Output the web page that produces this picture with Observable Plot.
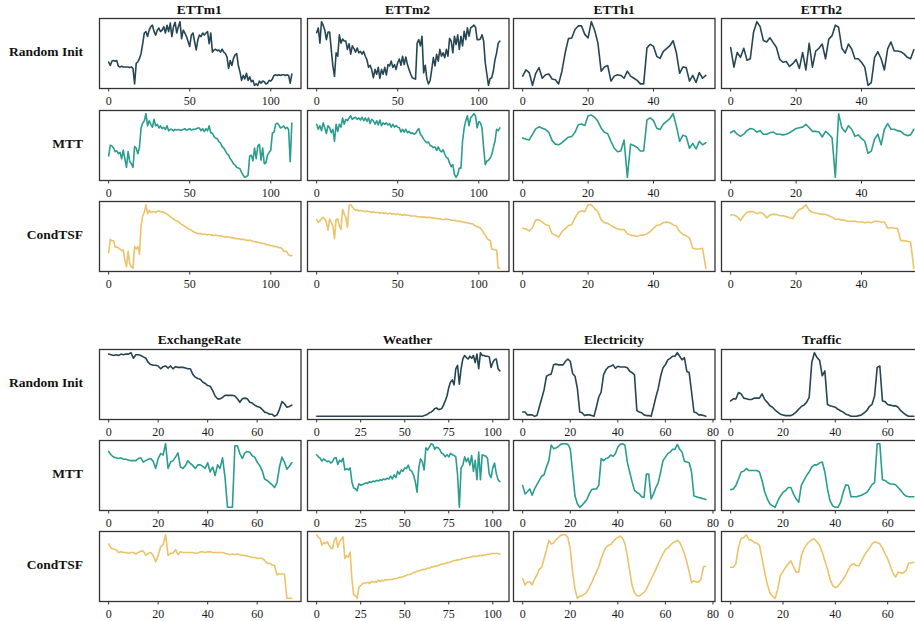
<!DOCTYPE html>
<html>
<head>
<meta charset="utf-8">
<script src="https://cdn.jsdelivr.net/npm/d3@7"></script>
<script src="https://cdn.jsdelivr.net/npm/@observablehq/plot@0.6"></script>
<style>
  html, body { margin: 0; padding: 0; background: #fff; overflow: hidden; }
  #wrap { position: relative; width: 915px; height: 621px; overflow: hidden; background: #fff; }
  .panel { position: absolute; }
  .panel svg { max-width: none !important; }
  .title, .rowlab { position: absolute; font-family: "Liberation Serif", "Times New Roman", serif; font-weight: bold; font-size: 13.5px; line-height: 16px; color: #111; white-space: nowrap; }
  .title { text-align: center; width: 200px; }
  .rowlab { text-align: right; width: 90px; }
</style>
</head>
<body>
<div id="wrap"></div>
<script>
// ---------------- data ----------------
const topDatasets = ["ETTm1", "ETTm2", "ETTh1", "ETTh2"];
const bottomDatasets = ["ExchangeRate", "Weather", "Electricity", "Traffic"];
const methods = ["Random Init", "MTT", "CondTSF"];
const methodColors = ["#264653", "#2a9d8f", "#e9c46a"];

const ticksETTm = [0, 50, 100];
const ticksETTh = [0, 20, 40];
const ticksExchange = [0, 20, 40, 60];
const ticksWeather = [0, 25, 50, 75, 100];
const ticksElectricity = [0, 20, 40, 60, 80];
const ticksTraffic = [0, 20, 40, 60];

const ettm1Random = [38,33,39,40,39,40,32,31,32,31, 31,31,31,30,31,29,7,36,38,43, 50,64,79,81,74,83,88,90,81,76, 83,86,81,83,88,79,90,81,93,74, 88,94,79,88,95,71,83,79,74,67, 60,76,79,67,55,69,76,74,79,76, 79,81,64,79,52,55,56,54,55,52, 56,52,50,45,29,40,33,43,48,50, 33,24,12,19,14,22,12,17,10,12, 5,7,5,11,8,11,10,7,8,12, 11,14,19,20,19,20,19,20,20,19, 20,19,8,21];
const ettm1MTT = [37,52,51,48,43,44,40,42,33,45, 33,21,43,29,26,21,50,48,40,49, 76,83,86,96,79,86,81,77,88,79, 81,76,79,75,77,74,79,72,74,74, 72,74,73,74,73,73,74,75,73,74, 75,73,74,74,75,76,76,72,75,71, 75,72,79,69,69,64,62,61,57,55, 50,48,44,40,38,33,30,26,24,21, 20,19,14,10,7,8,10,37,38,30, 48,33,51,53,31,48,26,27,38,42, 45,69,70,81,83,80,76,77,79,75, 77,74,29,83];
const ettm1Cond = [27,46,44,44,35,35,34,32,30,31, 17,7,29,12,7,5,36,32,36,25, 65,79,84,95,82,87,84,85,85,84, 86,86,85,85,84,83,82,80,78,76, 75,73,72,71,69,67,66,64,63,61, 60,59,57,56,55,54,54,54,53,53, 53,52,53,52,52,51,52,51,51,51, 50,50,49,50,49,49,48,48,47,47, 47,46,46,46,45,45,44,45,44,43, 43,42,42,41,41,40,40,39,38,38, 37,37,36,36,35,34,34,33,29,29, 28,24,23,23];

const ettm2Random = [79,86,64,95,90,83,69,80,80,55, 31,16,50,45,76,64,70,67,67,55, 63,48,60,56,51,57,50,52,48,52, 45,40,29,32,25,14,26,19,29,13, 26,19,29,18,33,31,38,29,33,26, 36,41,32,45,33,44,33,26,19,14, 13,12,64,69,60,74,21,32,12,5, 10,26,43,31,48,38,55,45,50,43, 55,45,71,67,50,74,62,76,55,74, 60,81,69,86,74,86,88,90,87,69, 69,70,76,67,36,19,3,13,14,24, 40,50,64,67];
const ettm2MTT = [81,74,79,72,83,76,68,79,76,69, 74,57,81,71,81,77,90,81,88,86, 90,93,88,90,91,88,90,87,91,86, 90,85,90,82,88,86,81,86,80,87, 79,83,81,83,80,82,77,81,77,79, 77,76,70,74,70,74,69,71,68,69, 67,68,72,75,67,64,60,57,55,56, 51,50,48,49,44,49,44,42,45,39, 34,33,26,21,24,10,6,10,19,19, 57,76,86,93,79,90,93,96,93,76, 85,83,76,48,24,29,30,33,38,48, 57,74,72,76];
const ettm2Cond = [74,70,72,75,77,75,70,59,75,70, 65,47,74,75,65,60,88,82,77,63, 94,95,92,89,87,88,86,87,86,86, 85,86,85,85,84,85,84,84,84,83, 84,83,83,83,82,83,82,82,82,81, 82,81,81,80,81,80,80,80,79,79, 79,79,78,78,78,77,78,77,77,77, 77,76,76,76,75,75,75,74,74,74, 75,74,74,73,73,73,72,72,72,71, 71,70,70,69,69,68,68,67,65,64, 63,62,59,55,52,48,45,45,32,32, 31,31,5,5];

const etth1Random = [17,26,22,4,21,29,14,19,20,13, 12,6,24,50,70,71,83,88,88,76, 71,94,82,64,24,30,32,10,17,19, 18,14,24,17,14,11,6,6,57,62, 59,45,42,52,56,60,67,50,21,30, 29,10,18,8,22,14,18];
const etth1MTT = [64,62,61,69,77,80,78,76,72,60, 55,54,57,61,65,66,72,83,84,82, 96,97,94,88,78,72,70,59,49,44, 45,61,7,55,53,50,45,45,90,93, 89,78,76,84,88,92,99,81,59,68, 66,49,56,48,59,54,57];
const etth1Cond = [61,60,57,62,73,73,70,66,65,53, 51,48,56,60,65,66,76,84,86,85, 95,95,89,85,73,69,68,65,62,60, 59,59,53,51,50,49,51,51,53,56, 61,65,66,69,70,69,66,64,56,52, 50,47,32,31,31,32,3];

const etth2Random = [57,29,50,43,56,39,41,79,94,87, 67,65,71,64,57,40,36,37,30,34, 40,27,50,25,63,29,52,56,62,41, 69,74,89,86,56,49,62,55,41,41, 36,29,3,7,43,51,41,25,55,65, 52,52,51,48,43,41,54];
const etth2MTT = [69,72,67,64,67,72,75,74,70,72, 67,67,69,70,67,67,66,67,69,72, 75,76,77,81,76,71,71,70,63,71, 67,62,6,96,76,70,79,74,64,66, 61,57,40,43,60,67,52,74,82,74, 74,72,71,67,65,66,74];
const etth2Cond = [80,80,78,72,79,84,85,85,82,84, 82,76,80,81,81,79,79,78,76,75, 83,88,90,95,87,84,83,82,81,81, 79,77,74,74,73,72,71,71,71,70, 70,69,70,69,71,71,70,70,61,62, 61,61,43,43,42,41,3];

const exchangeRandom = [93,92,91,92,91,93,92,93,93,95, 87,92,92,91,89,87,81,78,77,77, 76,72,75,76,73,76,72,75,74,74, 74,73,72,72,64,60,58,57,53,51, 48,47,41,33,29,29,31,34,34,34, 34,33,29,24,29,30,29,24,23,20, 18,17,14,10,9,7,7,4,6,14, 25,22,17,18,20];
const exchangeMTT = [84,79,76,75,74,75,73,73,72,71, 71,71,74,75,69,71,73,74,70,60, 74,81,79,95,60,69,71,76,82,62, 60,64,71,67,64,60,65,65,63,60, 68,55,62,50,65,60,75,48,5,5, 5,92,92,81,74,82,84,83,78,76, 69,64,57,45,43,40,37,33,40,62, 76,69,59,63,68];
const exchangeCond = [81,75,74,73,69,70,69,69,68,69, 69,67,69,71,71,65,68,69,65,56, 65,77,80,94,65,68,68,73,66,70, 69,69,69,69,69,68,68,70,70,69, 70,70,69,69,69,69,69,68,67,66, 67,66,67,66,65,65,64,63,62,62, 61,61,61,58,54,54,52,51,38,39, 39,39,5,5,5];

const weatherRandom = [5,5,5,5,5,5,5,5,5,5, 5,5,5,5,5,5,5,5,5,5, 5,5,5,5,5,5,5,5,5,5, 5,5,5,5,5,5,5,5,5,5, 5,5,5,5,5,5,5,5,5,5, 5,5,5,5,5,5,5,5,5,5, 5,6,7,8,10,11,13,16,17,15, 15,16,21,27,34,46,54,57,50,73, 78,51,73,87,92,89,87,91,88,92, 82,94,73,96,92,92,91,91,90,75, 82,86,87,73,70];
const weatherMTT = [79,76,74,70,73,71,69,70,67,69, 74,75,65,71,69,74,57,59,57,60, 40,31,30,27,37,35,36,37,38,38, 40,39,41,40,42,41,43,42,44,43, 45,44,48,44,50,46,55,51,57,55, 60,59,64,57,55,50,40,25,60,73, 69,57,89,86,90,95,94,87,90,89, 86,81,80,76,79,76,81,79,78,76, 50,3,60,64,76,69,74,64,78,55, 71,43,83,43,79,78,77,74,51,46, 60,67,52,43,40];
const weatherCond = [95,91,89,80,84,82,85,80,76,75, 87,91,77,85,89,92,61,65,63,70, 32,9,8,4,20,22,25,26,26,27, 25,28,27,28,27,30,28,30,29,31, 30,31,31,31,32,32,33,34,34,35, 36,37,38,38,39,41,41,43,43,44, 45,45,46,47,47,49,49,50,50,51, 52,53,53,54,55,55,56,57,58,58, 59,59,60,61,61,62,62,63,63,64, 64,64,65,65,65,66,66,67,67,68, 68,68,68,68,67];

const electricityRandom = [11,11,7,7,7,5,6,18,30,42, 61,63,64,77,78,77,77,77,82,85, 82,65,61,44,11,10,6,7,7,6, 5,18,32,39,63,70,74,75,77,72, 75,74,74,74,73,68,66,63,13,11, 10,7,6,6,5,18,32,44,61,73, 77,84,86,89,89,94,89,84,87,68, 66,39,11,10,7,7,6,5];
const electricityMTT = [36,24,27,31,22,31,37,43,49,51, 62,71,93,88,89,91,94,95,95,94, 88,55,21,10,5,8,12,16,24,30, 31,31,36,74,71,74,75,79,77,81, 90,94,95,93,69,55,41,29,26,24, 20,19,52,52,17,24,33,40,55,71, 76,81,83,87,87,94,87,83,70,69, 68,55,21,20,19,18,17,16];
const electricityCond = [33,24,28,28,24,32,38,46,49,61, 73,87,82,83,88,91,94,95,95,91, 75,42,18,5,8,9,11,14,20,27, 35,42,50,61,70,77,80,81,85,89, 91,93,90,82,65,44,23,13,9,8, 11,13,18,25,32,39,46,54,61,68, 74,76,80,83,85,87,84,77,68,56, 43,27,30,28,28,32,50,50];

const trafficRandom = [27,30,30,39,37,31,30,29,29,31, 31,31,37,29,25,20,18,14,11,8, 7,6,6,6,8,11,15,19,21,25, 32,82,96,89,85,63,70,22,20,19, 18,15,13,11,8,7,5,5,5,6, 7,10,13,19,22,34,75,77,27,26, 22,21,20,20,18,13,10,7,5,5, 5];
const trafficMTT = [30,31,36,45,55,56,60,57,57,57, 57,55,43,27,17,10,7,5,14,21, 26,29,33,33,24,17,12,36,43,50, 55,62,65,65,68,69,55,31,14,7, 5,5,12,26,37,36,20,20,20,21, 22,24,26,31,37,40,95,95,44,43, 40,38,38,37,33,29,24,21,20,20, 20];
const trafficCond = [49,49,54,77,90,91,95,88,87,84, 83,80,61,42,25,13,8,5,18,37, 43,49,54,58,50,42,42,65,75,81, 85,88,89,85,80,70,58,46,32,23, 20,22,27,32,38,46,52,54,51,51, 58,65,71,76,82,85,84,82,76,68, 61,51,41,35,42,41,41,44,55,55, 56];

// ---------------- assembly ----------------
const topSeries = [
  [ettm1Random, ettm2Random, etth1Random, etth2Random],
  [ettm1MTT, ettm2MTT, etth1MTT, etth2MTT],
  [ettm1Cond, ettm2Cond, etth1Cond, etth2Cond]
];
const bottomSeries = [
  [exchangeRandom, weatherRandom, electricityRandom, trafficRandom],
  [exchangeMTT, weatherMTT, electricityMTT, trafficMTT],
  [exchangeCond, weatherCond, electricityCond, trafficCond]
];
const topTicks = [ticksETTm, ticksETTm, ticksETTh, ticksETTh];
const bottomTicks = [ticksExchange, ticksWeather, ticksElectricity, ticksTraffic];

// layout (pixels)
const colLeft = [98.6, 306.7, 513.3, 720.7];
const panelW = 201.5, panelH = 70;
const blocks = [
  {titles: topDatasets, series: topSeries, ticks: topTicks, rowTop: [18.3, 110, 200.7], titleY: 10},
  {titles: bottomDatasets, series: bottomSeries, ticks: bottomTicks, rowTop: [349.3, 440, 530.7], titleY: 340.5}
];
const ml = 16, mr = 16, mt = 2, mb = 24;
const wrap = document.getElementById("wrap");
const serif = "'Liberation Serif', 'Times New Roman', serif";

function panel(values, ticks, color) {
  const n = values.length;
  const [lo, hi] = d3.extent(values);
  const r = hi - lo;
  return Plot.plot({
    width: panelW + ml + mr,
    height: panelH + mt + mb,
    marginLeft: ml, marginRight: mr, marginTop: mt, marginBottom: mb,
    style: {fontFamily: serif, fontSize: "12px", color: "#1a1a1a", background: "none", overflow: "visible", maxWidth: "none"},
    x: {domain: [-0.05 * (n - 1), 1.05 * (n - 1)]},
    y: {domain: [lo - 0.05 * r, hi + 0.05 * r], axis: null},
    marks: [
      Plot.line(values, {x: (d, i) => i, y: (d) => d, stroke: color, strokeWidth: 1.6}),
      Plot.frame({stroke: "#333", strokeWidth: 1.3}),
      Plot.axisX({ticks: ticks, tickSize: 3.5, tickPadding: 4.5, label: null, tickFormat: (d) => String(d), fontSize: 12, stroke: "#333"})
    ]
  });
}

for (const b of blocks) {
  b.titles.forEach((t, c) => {
    const el = document.createElement("div");
    el.className = "title";
    el.textContent = t;
    el.style.left = (colLeft[c] + panelW / 2 - 100) + "px";
    el.style.top = (b.titleY - 8.1) + "px";
    wrap.appendChild(el);
  });
  methods.forEach((m, r) => {
    const lab = document.createElement("div");
    lab.className = "rowlab";
    lab.textContent = m;
    lab.style.left = (83 - 90) + "px";
    lab.style.top = (b.rowTop[r] + panelH / 2 - 1 - 8.1) + "px";
    wrap.appendChild(lab);
    for (let c = 0; c < 4; c++) {
      const svg = panel(b.series[r][c], b.ticks[c], methodColors[r]);
      const d = document.createElement("div");
      d.className = "panel";
      d.style.left = (colLeft[c] - ml) + "px";
      d.style.top = (b.rowTop[r] - mt) + "px";
      d.style.width = (panelW + ml + mr) + "px";
      d.appendChild(svg);
      wrap.appendChild(d);
    }
  });
}
</script>
</body>
</html>
